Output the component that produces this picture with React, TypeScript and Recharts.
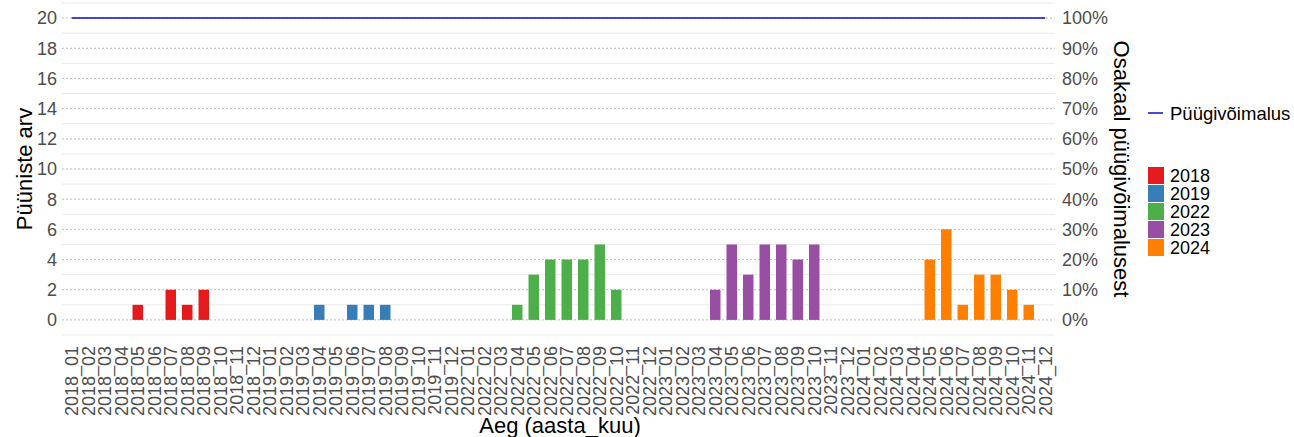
import React from "react";
import {
    Bar,
    CartesianGrid,
    ComposedChart,
    Line,
    XAxis,
    YAxis,
} from "recharts";

// category labels: year_month
const years = ["2018", "2019", "2022", "2023", "2024"];
const months = ["01", "02", "03", "04", "05", "06", "07", "08", "09", "10", "11", "12"];

// traps count per month, one list per year (null = no bar)
const traps2018 = [null, null, null, null, 1, null, 2, 1, 2, null, null, null];
const traps2019 = [null, null, null, 1, null, 1, 1, 1, null, null, null, null];
const traps2022 = [null, null, null, 1, 3, 4, 4, 4, 5, 2, null, null];
const traps2023 = [null, null, null, 2, 5, 3, 5, 5, 4, 5, null, null];
const traps2024 = [null, null, null, null, 4, 6, 1, 3, 3, 2, 1, null];

// fishing opportunity (quota) per year
const quotaByYear = [20, 20, 20, 20, 20];

const leftTicks = [0, 2, 4, 6, 8, 10, 12, 14, 16, 18, 20];
const minorLines = [-1, 1, 3, 5, 7, 9, 11, 13, 15, 17, 19, 21];
const rightTicks = [0, 10, 20, 30, 40, 50, 60, 70, 80, 90, 100];

const yearColors = ["#E41A1C", "#377EB8", "#4DAF4A", "#984EA3", "#FF7F00"];
const seriesByYear = [traps2018, traps2019, traps2022, traps2023, traps2024];

const data = years.flatMap((y, yi) =>
    months.map((m, mi) => {
        const row: Record<string, string | number | null> = {
            month: `${y}_${m}`,
            quota: quotaByYear[yi],
        };
        years.forEach((yy, k) => {
            row[`y${yy}`] = k === yi ? seriesByYear[yi][mi] : null;
        });
        return row;
    })
);

const FONT = "'Liberation Sans', Arial, Helvetica, sans-serif";
const TICK_GREY = "#4d4d4d";
const QUOTA_BLUE = "#0b0bcc";

const MonthTick = (props: any) => {
    const { x, y, payload } = props;
    return (
        <text
            x={0}
            y={0}
            dy="0.36em"
            transform={`translate(${x},${y + 3}) rotate(-90)`}
            textAnchor="end"
            fontSize={18}
            fontFamily={FONT}
            fill={TICK_GREY}
        >
            {payload.value}
        </text>
    );
};

const App = () => {
    return (
        <div
            style={{
                position: "absolute",
                left: 0,
                top: 0,
                width: 1294,
                height: 437,
                background: "#fff",
                fontFamily: FONT,
            }}
        >
            <ComposedChart
                width={1294}
                height={437}
                data={data}
                margin={{ top: 3, right: 179, left: 0, bottom: 22 }}
            >
                <CartesianGrid
                    vertical={false}
                    horizontalValues={minorLines}
                    stroke="#ebebeb"
                    strokeWidth={1}
                />
                <CartesianGrid
                    vertical={false}
                    horizontalValues={leftTicks}
                    stroke="#bdbdbd"
                    strokeDasharray="2 2"
                    strokeWidth={1}
                />
                <XAxis
                    dataKey="month"
                    interval={0}
                    height={80}
                    tick={<MonthTick />}
                    tickLine={false}
                    axisLine={false}
                    padding={{ left: 1.5, right: 1.5 }}
                />
                <YAxis
                    type="number"
                    domain={[-1, 21]}
                    ticks={leftTicks}
                    width={62}
                    tickLine={false}
                    axisLine={false}
                    tickSize={0}
                    tickMargin={5}
                    tick={{ fontSize: 18, fill: TICK_GREY, fontFamily: FONT }}
                    allowDataOverflow
                />
                <YAxis
                    yAxisId="right"
                    orientation="right"
                    type="number"
                    domain={[-5, 105]}
                    ticks={rightTicks}
                    width={60}
                    tickLine={false}
                    axisLine={false}
                    tickSize={0}
                    tickMargin={7}
                    tickFormatter={(v) => `${v}%`}
                    tick={{ fontSize: 18, fill: TICK_GREY, fontFamily: FONT, textAnchor: "start" }}
                    allowDataOverflow
                />
                {years.map((y, i) => (
                    <Bar
                        key={y}
                        dataKey={`y${y}`}
                        stackId="a"
                        fill={yearColors[i]}
                        barSize={10.5}
                        isAnimationActive={false}
                    />
                ))}
                <Line
                    dataKey="quota"
                    stroke={QUOTA_BLUE}
                    strokeWidth={1.5}
                    dot={false}
                    activeDot={false}
                    isAnimationActive={false}
                />
            </ComposedChart>

            {/* titles and legend */}
            <svg
                width={1294}
                height={437}
                style={{ position: "absolute", left: 0, top: 0, pointerEvents: "none" }}
                fontFamily={FONT}
            >
                <text x={560} y={433} textAnchor="middle" fontSize={22} fill="#000">
                    Aeg (aasta_kuu)
                </text>
                <text
                    transform="translate(32,169) rotate(-90)"
                    textAnchor="middle"
                    fontSize={22}
                    fill="#000"
                >
                    Püüniste arv
                </text>
                <text
                    transform="translate(1114,169) rotate(90)"
                    textAnchor="middle"
                    fontSize={22}
                    fill="#000"
                >
                    Osakaal püügivõimalusest
                </text>

                <line x1={1148} x2={1163} y1={113} y2={113} stroke={QUOTA_BLUE} strokeWidth={1.5} />
                <text x={1170} y={113} dy="0.36em" fontSize={18.5} fill="#000">
                    Püügivõimalus
                </text>

                {years.map((y, i) => (
                    <g key={y}>
                        <rect x={1148} y={167 + i * 18} width={16} height={17} fill={yearColors[i]} />
                        <text x={1170} y={176 + i * 18} dy="0.36em" fontSize={18} fill="#000">
                            {y}
                        </text>
                    </g>
                ))}
            </svg>
        </div>
    );
};

export default App;
